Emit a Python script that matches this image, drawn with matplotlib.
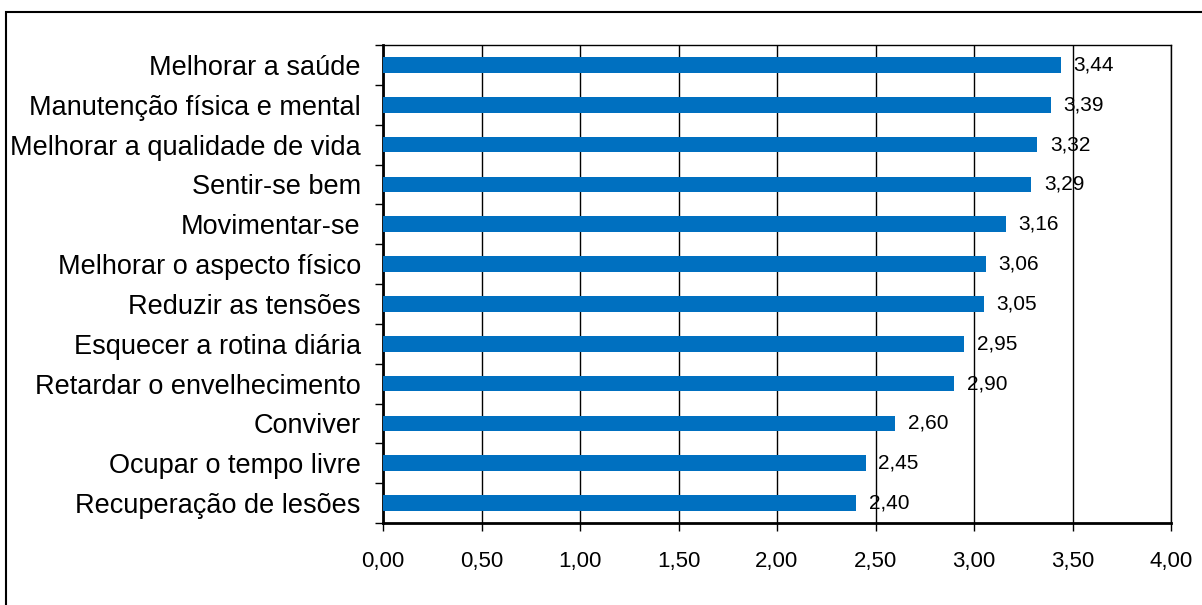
import matplotlib
matplotlib.use("Agg")
import matplotlib.pyplot as plt
from matplotlib.patches import Rectangle
import numpy as np

categories = [
    "Melhorar a saúde",
    "Manutenção física e mental",
    "Melhorar a qualidade de vida",
    "Sentir-se bem",
    "Movimentar-se",
    "Melhorar o aspecto físico",
    "Reduzir as tensões",
    "Esquecer a rotina diária",
    "Retardar o envelhecimento",
    "Conviver",
    "Ocupar o tempo livre",
    "Recuperação de lesões",
]
values = [3.44, 3.39, 3.32, 3.29, 3.16, 3.06, 3.05, 2.95, 2.90, 2.60, 2.45, 2.40]
x_ticks = [0.0, 0.5, 1.0, 1.5, 2.0, 2.5, 3.0, 3.5, 4.0]

BAR_COLOR = "#0070C0"


def fmt(v):
    return f"{v:.2f}".replace(".", ",")


plt.rcParams["font.family"] = ["Liberation Sans Narrow", "Liberation Sans", "DejaVu Sans"]

fig = plt.figure(figsize=(12.02, 6.05), dpi=100)
ax = fig.add_axes([383 / 1202, 1 - 523 / 605, (1171 - 383) / 1202, (523 - 45) / 605])

# outer chart border (right and bottom edges fall outside the picture)
fig.patches.append(Rectangle((6 / 1202, -0.1), 1.2, 1 - 12 / 605 + 0.1,
                             transform=fig.transFigure, fill=False,
                             edgecolor="black", linewidth=1.5))

y = np.arange(len(categories))[::-1]
ax.barh(y, values, height=0.39, color=BAR_COLOR, zorder=3)

for yi, v in zip(y, values):
    ax.text(v + 0.065, yi, fmt(v), va="center", ha="left", fontsize=15, zorder=4)

ax.set_xlim(0, 4)
ax.set_ylim(-0.5, len(categories) - 0.5)
ax.set_xticks(x_ticks)
ax.set_xticklabels([fmt(t) for t in x_ticks], fontsize=16)
ax.set_yticks(y)
ax.set_yticklabels(categories, fontsize=19.5)
ax.set_yticks(np.arange(-0.5, len(categories)), minor=True)

ax.tick_params(axis="y", which="major", length=0, pad=16)
ax.tick_params(axis="y", which="minor", length=6, width=1, direction="out")
ax.tick_params(axis="x", which="major", length=6, width=1, direction="out", pad=14)

ax.grid(axis="x", color="black", linewidth=1, zorder=0)
ax.set_axisbelow(True)

for side in ["left", "bottom"]:
    ax.spines[side].set_linewidth(2)
for side in ["top", "right"]:
    ax.spines[side].set_linewidth(1)

fig.savefig("out.png", dpi=100)
